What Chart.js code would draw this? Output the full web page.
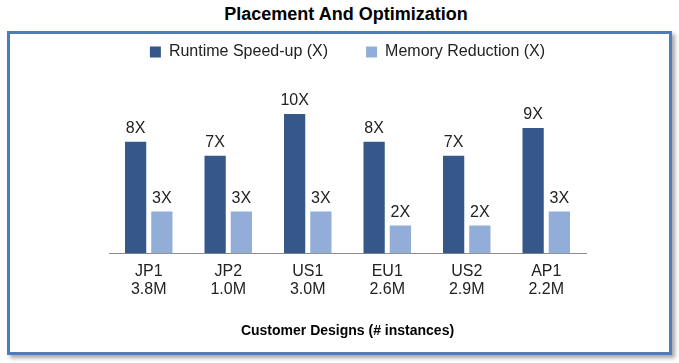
<!DOCTYPE html>
<html lang="en">
<head>
    <meta charset="UTF-8">
    <title>Placement And Optimization</title>
    <script src="https://cdn.jsdelivr.net/npm/chart.js"></script>
    <style>
        body {
            margin: 0;
            padding: 0;
            background: #fff;
            font-family: "Liberation Sans", Arial, sans-serif;
        }
        #title {
            position: absolute;
            left: 0;
            top: 4px;
            width: 692px;
            text-align: center;
            font-size: 18px;
            line-height: 20px;
            font-weight: bold;
            color: #000;
        }
        #frame {
            position: absolute;
            left: 7px;
            top: 31px;
            width: 659px;
            height: 318px;
            border: 3px solid #4f7dbb;
            box-shadow: 3px 3px 4px rgba(0, 0, 0, 0.35);
            z-index: 0;
        }
        #wrap {
            position: absolute;
            left: 0;
            top: 0;
            width: 679px;
            height: 363px;
            z-index: 1;
        }
    </style>
</head>
<body>
    <div id="title">Placement And Optimization</div>
    <div id="frame"></div>
    <div id="wrap"><canvas id="chart" width="679" height="363"></canvas></div>

    <script>
        // chart data
        const categories = ['JP1', 'JP2', 'US1', 'EU1', 'US2', 'AP1'];
        const instances = ['3.8M', '1.0M', '3.0M', '2.6M', '2.9M', '2.2M'];
        const runtimeSpeedup = [8, 7, 10, 8, 7, 9];
        const memoryReduction = [3, 3, 3, 2, 2, 3];
        const seriesNames = ['Runtime Speed-up (X)', 'Memory Reduction (X)'];

        const labels = categories.map((c, i) => [c, instances[i]]);
        const fontFamily = '"Liberation Sans", Arial, sans-serif';

        // writes "8X" etc above every bar
        const valueLabels = {
            id: 'valueLabels',
            afterDatasetsDraw(chart) {
                const ctx = chart.ctx;
                ctx.save();
                ctx.font = '16px ' + fontFamily;
                ctx.fillStyle = '#222';
                ctx.textAlign = 'center';
                ctx.textBaseline = 'bottom';
                chart.data.datasets.forEach((ds, di) => {
                    chart.getDatasetMeta(di).data.forEach((bar, i) => {
                        ctx.fillText(ds.data[i] + 'X', bar.x, bar.y - 5);
                    });
                });
                ctx.restore();
            }
        };

        const ctx = document.getElementById('chart').getContext('2d');
        new Chart(ctx, {
            type: 'bar',
            data: {
                labels: labels,
                datasets: [
                    {
                        label: seriesNames[0],
                        data: runtimeSpeedup,
                        backgroundColor: '#36578a'
                    },
                    {
                        label: seriesNames[1],
                        data: memoryReduction,
                        backgroundColor: '#92add7'
                    }
                ]
            },
            options: {
                responsive: false,
                animation: false,
                layout: {
                    padding: { left: 109, right: 93, top: 6, bottom: 23 }
                },
                datasets: {
                    bar: {
                        categoryPercentage: 0.66,
                        barPercentage: 0.81
                    }
                },
                plugins: {
                    legend: {
                        position: 'top',
                        labels: {
                            color: '#222',
                            font: { family: fontFamily, size: 16 },
                            boxWidth: 11,
                            boxHeight: 11,
                            padding: 38
                        }
                    },
                    tooltip: { enabled: false }
                },
                scales: {
                    y: {
                        display: false,
                        min: 0,
                        max: 13.15
                    },
                    x: {
                        grid: { display: false, drawTicks: false },
                        border: { display: true, color: '#8c8c8c', width: 1 },
                        ticks: {
                            color: '#222',
                            font: { family: fontFamily, size: 16, lineHeight: 1.15 },
                            padding: 9
                        },
                        title: {
                            display: true,
                            text: 'Customer Designs (# instances)',
                            color: '#000',
                            font: { family: fontFamily, size: 14, weight: 'bold' },
                            padding: { top: 15, bottom: 0 }
                        }
                    }
                }
            },
            plugins: [valueLabels]
        });
    </script>
</body>
</html>
